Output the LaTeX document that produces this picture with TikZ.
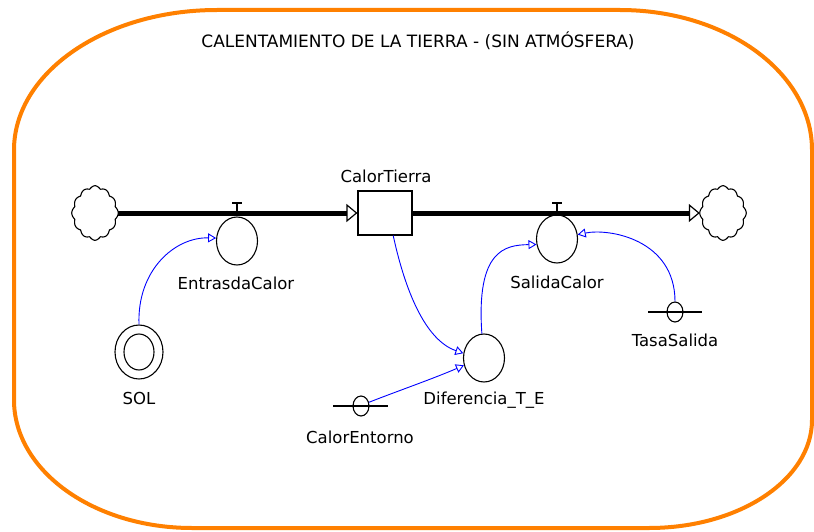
\documentclass[tikz,border=0pt]{standalone}
\usepackage{fontspec}
\setmainfont{DejaVu Sans}
\usetikzlibrary{arrows.meta,shapes.geometric}
\definecolor{bordo}{RGB}{255,128,0}
\definecolor{linkblue}{RGB}{0,0,255}
\newcommand{\cloudpath}{plot[domain=0.5:360.5, samples=289] ({23*cos(\x)*(0.92+0.09*abs(cos(6*\x)))/pow(pow(abs(cos(\x)),1.8)+pow(abs(sin(\x)),1.8),0.5556)}, {27*sin(\x)*(0.92+0.09*abs(cos(6*\x)))/pow(pow(abs(cos(\x)),1.8)+pow(abs(sin(\x)),1.8),0.5556)}) -- cycle}
\tikzset{
  lbl/.style={font=\fontsize{16.5}{18}\selectfont, inner sep=0pt},
  titlelbl/.style={font=\fontsize{17}{19}\selectfont, inner sep=0pt},
  border/.style={draw=bordo, line width=4pt},
  pipe/.style={draw=black, line width=5pt, -{Triangle[length=11pt,width=18pt,line width=1.2pt,fill=white]}},
  link/.style={draw=linkblue, line width=0.9pt, -{Triangle[length=8pt,width=9pt,line width=0.9pt,fill=white]}},
  auxnode/.style={ellipse, draw, line width=1.1pt, minimum width=41pt, minimum height=48pt, inner sep=0pt},
  solnode/.style={ellipse, draw, line width=1.1pt, minimum width=48pt, minimum height=54pt, inner sep=0pt},
  solinner/.style={ellipse, draw, line width=1.1pt, minimum width=30pt, minimum height=36pt, inner sep=0pt},
  stocknode/.style={rectangle, draw, line width=1.1pt, minimum width=54pt, minimum height=44pt, inner sep=0pt},
  constnode/.style={ellipse, draw, line width=1.1pt, minimum width=16pt, minimum height=20pt, inner sep=0pt},
  cloudnode/.style={minimum width=46pt, minimum height=54pt, inner sep=0pt},
  cloudline/.style={draw=black, line width=1.1pt, fill=white},
  stem/.style={draw=black, line width=1.2pt},
  bar/.style={draw=black, line width=1.1pt}
}
\begin{document}
\begin{tikzpicture}[x=1pt, y=-1pt]
\useasboundingbox (0,0) rectangle (814,532);
% border
\draw[border] (217,10) -- (620,10)
  arc[start angle=270, end angle=360, x radius=192, y radius=140] -- (812,420)
  arc[start angle=0, end angle=90, x radius=163, y radius=108] -- (192,528)
  arc[start angle=90, end angle=180, x radius=178, y radius=128] -- (14,150)
  arc[start angle=180, end angle=270, x radius=203, y radius=140] -- cycle;
\node[titlelbl] (title) at (418,41) {CALENTAMIENTO DE LA TIERRA - (SIN ATMÓSFERA)};

% clouds
\node[cloudnode] (c1) at (95,213) {};
\node[cloudnode] (c2) at (723,213) {};
\begin{scope}[shift={(c1.center)}]
  \draw[cloudline] \cloudpath;
\end{scope}
\begin{scope}[shift={(c2.center)}]
  \draw[cloudline] \cloudpath;
\end{scope}

% stock
\node[stocknode] (stock) at (385,213) {};
\node[lbl] (stocklbl) at (386,176) {CalorTierra};

% flows
\draw[pipe] (c1.east) -- (stock.west);
\draw[pipe] (stock.east) -- (c2.west);

% valves
\node[auxnode] (inflow) at (237,241) {};
\node[lbl] (inflowlbl) at (236,283) {EntrasdaCalor};
\coordinate (t1) at (237,203);
\draw[stem] (inflow.north) -- (t1);
\draw[line width=3pt] (inflow.north) -- (237,214);
\draw[bar] (232,203) -- (242,203);

\node[auxnode] (outflow) at (557,239) {};
\node[lbl] (outflowlbl) at (557,282) {SalidaCalor};
\coordinate (t2) at (557,203);
\draw[stem] (outflow.north) -- (t2);
\draw[line width=3pt] (outflow.north) -- (557,214);
\draw[bar] (552,203) -- (562,203);

% SOL
\node[solnode] (sol) at (139,352) {};
\node[solinner] (solin) at (sol.center) {};
\node[lbl] (sollbl) at (139,398) {SOL};

% Diferencia
\node[auxnode] (dif) at (484,358) {};
\node[lbl] (diflbl) at (484,400) {Diferencia\_T\_E};

% constants
\node[constnode] (ent) at (361,406) {};
\draw[bar] (333,406) -- (388,406);
\node[lbl] (entlbl) at (360,437) {CalorEntorno};

\node[constnode] (tasa) at (675,312) {};
\draw[bar] (648,312) -- (702,312);
\node[lbl] (tasalbl) at (675,340) {TasaSalida};

% connectors
\draw[link] (sol.north) .. controls (137,270) and (175,237) .. (inflow.172);
\draw[link] (stock.290) .. controls (405,290) and (425,340) .. (dif.167);
\draw[link] (ent.25) .. controls (395,392) and (435,378) .. (dif.200);
\draw[link] (dif.95) .. controls (476,250) and (505,245) .. (outflow.195);
\draw[link] (tasa.north) .. controls (675,240) and (610,228) .. (outflow.12);
\end{tikzpicture}
\end{document}
